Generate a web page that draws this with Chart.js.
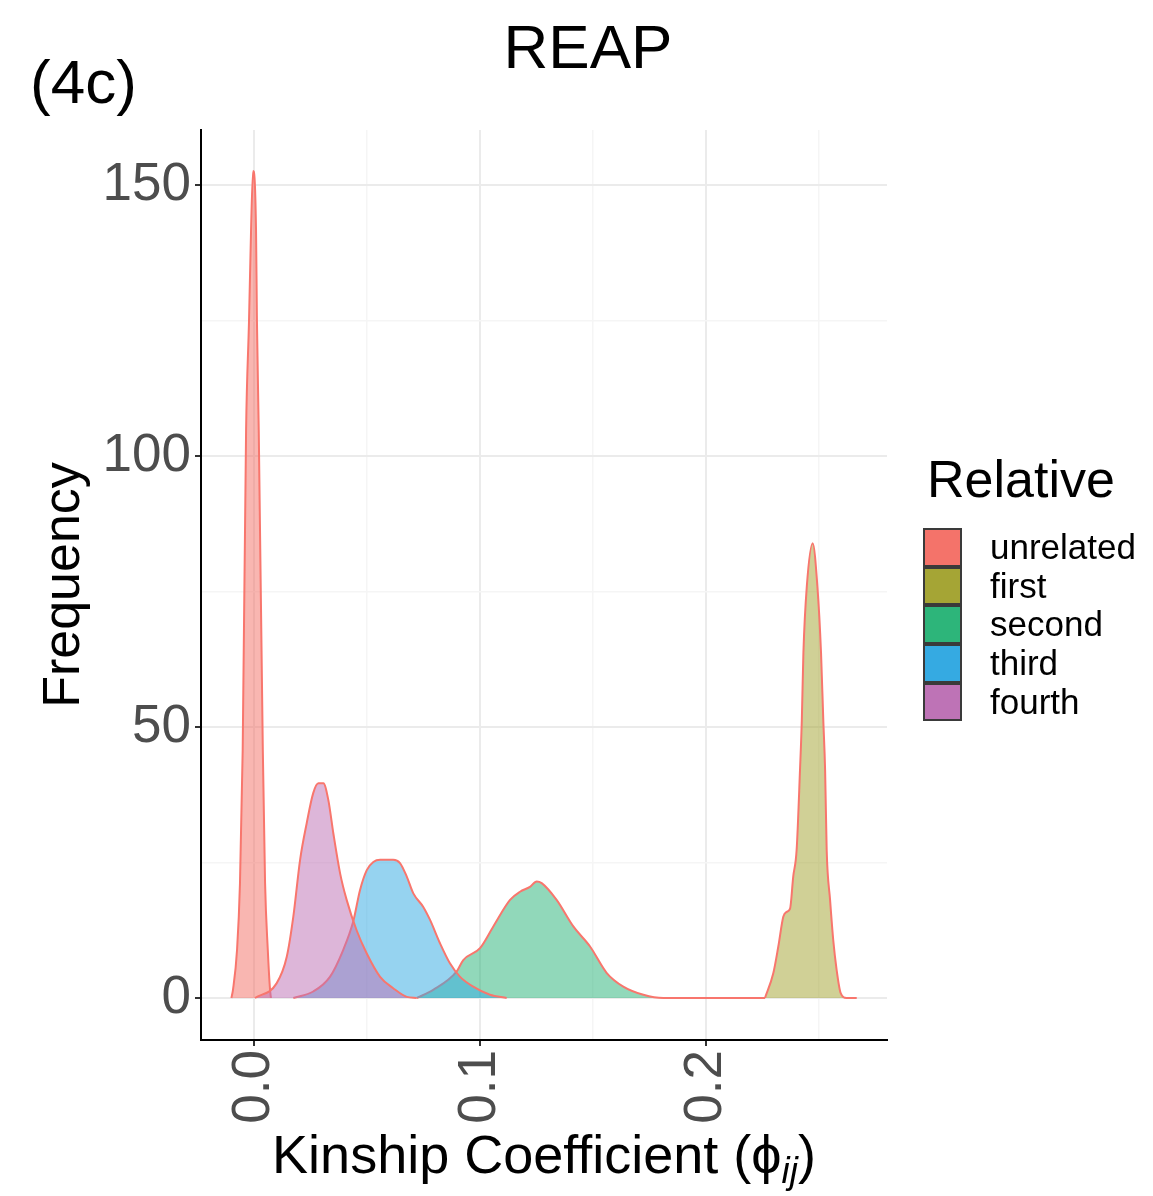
<!DOCTYPE html>
<html>
<head>
<meta charset="utf-8">
<script src="https://cdn.jsdelivr.net/npm/chart.js@4.4.1/dist/chart.umd.min.js"></script>
<style>
    body { margin: 0; background: #fff; font-family: "Liberation Sans", Arial, sans-serif; }
    #wrap { position: relative; width: 1153px; height: 1196px; }
    #title { position: absolute; left: 388px; width: 400px; top: 16px; font-size: 62px; line-height: 62px; text-align: center; color: #000; }
    #tag { position: absolute; left: 30px; top: 51px; font-size: 62px; line-height: 62px; color: #000; }
    #xtitle { position: absolute; left: 201px; width: 686px; top: 1127px; font-size: 54px; line-height: 54px; text-align: center; color: #000; white-space: nowrap; }
    #xtitle sub { font-size: 0.68em; font-style: italic; vertical-align: -0.28em; line-height: 0; }
    #legend { position: absolute; left: 923px; top: 453px; }
    #legend .title { font-size: 52px; line-height: 52px; margin-left: 4px; height: 75px; }
    #legend .row { display: flex; align-items: center; height: 38.7px; }
    #legend .key { width: 35px; height: 34.7px; border: 2px solid #3a3a3a; }
    #legend .lab { font-size: 35px; line-height: 38.7px; margin-left: 28px; color: #000; }
</style>
</head>
<body>
<div id="wrap">
    <canvas id="chart" width="1153" height="1196"></canvas>
    <div id="title">REAP</div>
    <div id="tag">(4c)</div>
    <div id="xtitle">Kinship Coefficient (ϕ<sub>ij</sub>)</div>
    <div id="legend"></div>
</div>
<script>
// Grupos de parentesco y colores de la leyenda
const relatives = ['unrelated', 'first', 'second', 'third', 'fourth'];
const keyColors = ['#F4736A', '#A5A535', '#2DB57A', '#35AAE2', '#BE73B6'];
const outlineColor = '#F8766D';

// Curvas de densidad (x = coeficiente, y = frecuencia)
const xUnrelated = [-0.0100, -0.0093, -0.0075, -0.0062, -0.0050, -0.0035, -0.0022, -0.0013, -0.0004, 0.0009, 0.0013, 0.0021, 0.0039, 0.0049, 0.0061, 0.0071, 0.0075];
const yUnrelated = [0, 1.5, 8.9, 21.2, 45.8, 104.8, 125, 141.7, 152.6, 141.7, 125, 104.8, 45.8, 21.2, 8.9, 1.5, 0];

const xFirst = [0.2261, 0.2298, 0.2320, 0.2342, 0.2357, 0.2372, 0.2386, 0.2401, 0.2416, 0.2424, 0.2431, 0.2446, 0.2472, 0.2493, 0.2509, 0.2519, 0.2527, 0.2534, 0.2549, 0.2563, 0.2578, 0.2596, 0.2622, 0.2667];
const yFirst = [0, 4.6, 9.5, 15.0, 15.9, 16.5, 22.4, 27.3, 42.1, 51.3, 63.7, 75.9, 83.9, 75.9, 63.7, 51.3, 42.1, 27.3, 18.1, 10.7, 5.2, 0.9, 0, 0];

const xSecond = [0.0720, 0.0793, 0.0897, 0.0926, 0.1000, 0.1059, 0.1133, 0.1177, 0.1221, 0.1251, 0.1273, 0.1339, 0.1413, 0.1487, 0.1561, 0.1634, 0.1723, 0.1811, 0.2261];
const ySecond = [0, 1.5, 4.9, 7.0, 9.2, 13.2, 18.1, 19.6, 20.5, 21.5, 21.2, 18.1, 13.2, 9.5, 4.6, 2.1, 0.6, 0, 0];

const xThird = [0.0174, 0.0262, 0.0336, 0.0395, 0.0439, 0.0469, 0.0499, 0.0528, 0.0558, 0.0616, 0.0646, 0.0676, 0.0705, 0.0749, 0.0779, 0.0823, 0.0867, 0.0912, 0.0970, 0.1044, 0.1118];
const yThird = [0, 1.2, 3.9, 8.9, 14.1, 19.9, 23.6, 25.1, 25.5, 25.5, 24.9, 22.4, 19.3, 16.8, 14.4, 10.1, 6.4, 3.9, 2.1, 0.6, 0];

const xFourth = [0.0004, 0.0100, 0.0145, 0.0174, 0.0204, 0.0233, 0.0262, 0.0285, 0.0307, 0.0329, 0.0351, 0.0381, 0.0410, 0.0454, 0.0499, 0.0558, 0.0616, 0.0676, 0.0720];
const yFourth = [0, 2.7, 7.6, 15.0, 25.5, 32.2, 37.8, 39.6, 39.6, 36.5, 30.4, 23.0, 18.1, 12.5, 8.2, 3.9, 1.8, 0.2, 0];

const xTicks = [0, 0.05, 0.1, 0.15, 0.2, 0.25];
const yTicks = [0, 25, 50, 75, 100, 125, 150];

function toPoints(xs, ys) {
    return xs.map((x, i) => ({ x: x, y: ys[i] }));
}

function withAlpha(hex, a) {
    const n = parseInt(hex.slice(1), 16);
    return `rgba(${(n >> 16) & 255}, ${(n >> 8) & 255}, ${n & 255}, ${a})`;
}

const curves = [
    toPoints(xUnrelated, yUnrelated),
    toPoints(xFirst, yFirst),
    toPoints(xSecond, ySecond),
    toPoints(xThird, yThird),
    toPoints(xFourth, yFourth)
];

// Leyenda en HTML
const legend = document.getElementById('legend');
legend.innerHTML = '<div class="title">Relative</div>' + relatives.map((r, i) =>
    `<div class="row"><div class="key" style="background:${keyColors[i]}"></div><div class="lab">${r}</div></div>`
).join('');

const isMajorX = v => Math.abs(v * 10 - Math.round(v * 10)) < 1e-9;
const isMajorY = v => v % 50 === 0;

const ctx = document.getElementById('chart').getContext('2d');
new Chart(ctx, {
    type: 'line',
    data: {
        datasets: relatives.map((r, i) => ({
            label: r,
            data: curves[i],
            backgroundColor: withAlpha(keyColors[i], 0.52),
            borderColor: outlineColor,
            borderWidth: 2,
            fill: 'origin',
            pointRadius: 0,
            cubicInterpolationMode: 'monotone',
            order: relatives.length - i
        }))
    },
    options: {
        responsive: false,
        animation: false,
        devicePixelRatio: 1,
        layout: { padding: { left: 23, right: 266, top: 130, bottom: 0 } },
        plugins: {
            legend: { display: false },
            tooltip: { enabled: false },
            title: { display: false }
        },
        scales: {
            x: {
                type: 'linear',
                min: -0.02345,
                max: 0.28009,
                afterBuildTicks: s => { s.ticks = xTicks.map(v => ({ value: v })); },
                afterFit: s => { s.height = 156; },
                border: { display: true, color: '#000', width: 2 },
                grid: {
                    color: c => isMajorX(c.tick.value) ? '#EBEBEB' : '#F5F5F5',
                    lineWidth: c => isMajorX(c.tick.value) ? 2 : 1.5,
                    tickColor: c => isMajorX(c.tick.value) ? '#333' : 'rgba(0,0,0,0)',
                    tickLength: 6,
                    tickWidth: 2
                },
                ticks: {
                    autoSkip: false,
                    maxRotation: 90,
                    minRotation: 90,
                    padding: 4,
                    color: '#4D4D4D',
                    font: { family: 'Liberation Sans', size: 53 },
                    callback: v => isMajorX(v) ? v.toFixed(1) : ''
                }
            },
            y: {
                type: 'linear',
                min: -7.75,
                max: 160.15,
                afterBuildTicks: s => { s.ticks = yTicks.map(v => ({ value: v })); },
                afterFit: s => { s.width = 178; },
                border: { display: true, color: '#000', width: 2 },
                grid: {
                    color: c => isMajorY(c.tick.value) ? '#EBEBEB' : '#F5F5F5',
                    lineWidth: c => isMajorY(c.tick.value) ? 2 : 1.5,
                    tickColor: c => isMajorY(c.tick.value) ? '#333' : 'rgba(0,0,0,0)',
                    tickLength: 6,
                    tickWidth: 2
                },
                ticks: {
                    padding: 4,
                    color: '#4D4D4D',
                    font: { family: 'Liberation Sans', size: 53 },
                    callback: v => isMajorY(v) ? String(v) : ''
                },
                title: {
                    display: true,
                    text: 'Frequency',
                    color: '#000',
                    font: { family: 'Liberation Sans', size: 52 },
                    padding: { top: 10, bottom: 0 }
                }
            }
        }
    }
});
</script>
</body>
</html>
